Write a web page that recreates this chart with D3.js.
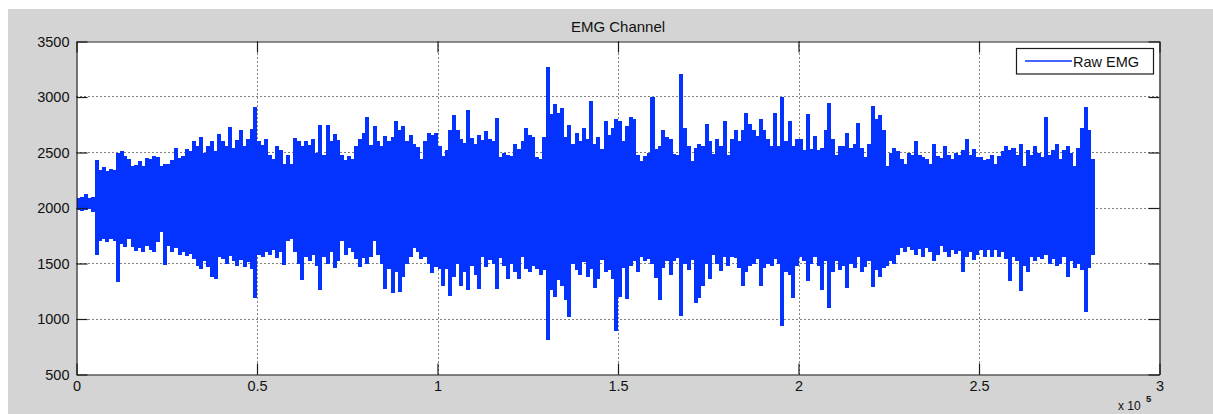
<!DOCTYPE html>
<html><head><meta charset="utf-8">
<script src="https://cdn.jsdelivr.net/npm/d3@7"></script>
<style>
body{margin:0;background:#fff}
svg{display:block}
text{font-family:"Liberation Sans",Arial,Helvetica,sans-serif}
</style>
</head><body><svg id="c" width="1213" height="414"></svg>
<script>
const title = "EMG Channel";
const seriesName = "Raw EMG";
const binSize = 1000; // samples per bin
const xTicks = [0, 50000, 100000, 150000, 200000, 250000, 300000];
const xTickLabels = ["0", "0.5", "1", "1.5", "2", "2.5", "3"];
const xExponent = "5";
const yTicks = [500, 1000, 1500, 2000, 2500, 3000, 3500];
const yTickLabels = ["500", "1000", "1500", "2000", "2500", "3000", "3500"];

// per-bin maximum of the raw EMG signal
const hi = [
2090,2100,2130,2090,2095, 2430,2340,2370,2330,2350,
2340,2500,2510,2470,2440, 2380,2390,2420,2380,2450,
2440,2470,2460,2380,2400, 2400,2430,2540,2450,2470,
2530,2510,2600,2560,2640, 2500,2560,2600,2510,2670,
2600,2560,2730,2540,2610, 2700,2560,2620,2710,2910,
2600,2570,2620,2480,2440, 2560,2520,2400,2480,2400,
2630,2600,2560,2600,2570, 2620,2500,2750,2480,2750,
2600,2670,2610,2480,2430, 2470,2440,2560,2620,2680,
2820,2570,2740,2600,2560, 2650,2600,2640,2780,2700,
2740,2600,2660,2580,2550, 2440,2600,2680,2660,2680,
2560,2470,2520,2700,2840, 2700,2620,2590,2880,2630,
2580,2660,2610,2690,2620, 2600,2810,2460,2500,2480,
2470,2580,2530,2600,2720, 2660,2640,2460,2440,2640,
3270,2850,2940,2860,2900, 2640,2750,2580,2680,2600,
2720,2620,2960,2580,2640, 2530,2780,2660,2720,2800,
2780,2600,2740,2820,2800, 2480,2420,2470,2500,3000,
2530,2560,2700,2640,2620, 2490,2480,3210,2720,2560,
2420,2540,2580,2560,2760, 2600,2490,2620,2560,2780,
2480,2620,2700,2600,2700, 2860,2760,2700,2650,2800,
2700,2620,2560,2860,2560, 3000,2600,2780,2560,2620,
2620,2520,2850,2530,2650, 2520,2540,2700,2950,2620,
2480,2560,2560,2680,2540, 2580,2770,2540,2460,2580,
2920,2800,2840,2700,2380, 2500,2540,2510,2440,2400,
2500,2480,2600,2480,2460, 2440,2400,2580,2470,2450,
2560,2480,2440,2500,2480, 2520,2620,2480,2530,2460,
2460,2430,2440,2480,2400, 2470,2510,2560,2520,2540,
2480,2580,2380,2520,2480, 2560,2500,2460,2820,2480,
2520,2580,2440,2520,2560, 2500,2380,2540,2720,2910,
2700,2440
];
// per-bin minimum of the raw EMG signal
const lo = [
1985,1975,1980,1990,1965, 1580,1700,1720,1690,1720,
1700,1330,1680,1650,1720, 1650,1610,1640,1600,1660,
1620,1600,1690,1780,1490, 1660,1600,1640,1580,1600,
1570,1590,1540,1480,1450, 1520,1470,1380,1360,1560,
1540,1500,1570,1520,1480, 1530,1470,1510,1450,1190,
1580,1560,1600,1580,1620, 1550,1600,1490,1700,1720,
1600,1500,1350,1560,1520, 1580,1480,1260,1560,1500,
1600,1460,1520,1700,1580, 1640,1600,1540,1470,1550,
1500,1560,1700,1580,1500, 1270,1450,1230,1420,1240,
1380,1500,1560,1640,1600, 1540,1560,1500,1410,1470,
1450,1300,1450,1210,1380, 1500,1300,1420,1260,1480,
1400,1270,1560,1470,1530, 1500,1270,1550,1480,1360,
1500,1420,1360,1560,1450, 1420,1480,1450,1400,1440,
810,1260,1200,1350,1300, 1170,1020,1500,1440,1400,
1510,1380,1450,1280,1360, 1530,1420,1440,1360,890,
1200,1460,1180,1480,1520, 1420,1560,1520,1540,1500,
1370,1170,1460,1520,1400, 1520,1550,1030,1500,1440,
1530,1140,1190,1300,1500, 1360,1580,1500,1430,1560,
1480,1560,1550,1460,1300, 1420,1480,1500,1540,1300,
1460,1500,1480,1540,1500, 940,1420,1400,1190,1480,
1560,1520,1340,1500,1560, 1480,1260,1520,1100,1420,
1520,1440,1480,1280,1500, 1460,1560,1420,1470,1520,
1290,1440,1380,1460,1480, 1520,1500,1580,1640,1600,
1650,1620,1580,1630,1560, 1640,1600,1520,1580,1660,
1600,1560,1620,1590,1610, 1420,1560,1600,1530,1580,
1620,1560,1620,1560,1620, 1560,1600,1540,1340,1560,
1520,1250,1480,1420,1560, 1520,1560,1540,1580,1500,
1540,1480,1500,1560,1380, 1520,1460,1500,1440,1060,
1460,1580
];

const W = 1213, H = 414;
const svg = d3.select("#c");
const blue = "#0433ff";
const ink = "#1c1c1c";

// figure background
svg.append("rect").attr("x", 8).attr("y", 9).attr("width", W - 8).attr("height", H - 9).attr("fill", "#d4d4d4");

const m = {l: 76.5, r: 1159.5, t: 41.5, b: 374.5};
const x = d3.scaleLinear().domain([0, 300000]).range([m.l, m.r]);
const y = d3.scaleLinear().domain([500, 3500]).range([m.b, m.t]);

svg.append("rect").attr("x", m.l).attr("y", m.t).attr("width", m.r - m.l).attr("height", m.b - m.t).attr("fill", "#fff");

// grid
const grid = svg.append("g").attr("stroke", "#000").attr("stroke-width", 1).attr("stroke-dasharray", "1,3");
grid.selectAll("line.v").data(xTicks.slice(1, -1)).join("line")
  .attr("x1", d => Math.round(x(d)) + 0.5).attr("x2", d => Math.round(x(d)) + 0.5)
  .attr("y1", m.t).attr("y2", m.b);
grid.selectAll("line.h").data(yTicks.slice(1, -1)).join("line")
  .attr("y1", d => Math.round(y(d) - 0.5) + 0.5).attr("y2", d => Math.round(y(d) - 0.5) + 0.5)
  .attr("x1", m.l).attr("x2", m.r);

// data: each bin drawn from its minimum to its maximum
svg.append("clipPath").attr("id", "clip").append("rect")
  .attr("x", m.l).attr("y", m.t).attr("width", m.r - m.l).attr("height", m.b - m.t);
const bins = hi.map((h, i) => ({s0: i * binSize, s1: (i + 1) * binSize, hi: h, lo: lo[i]}));
svg.append("g").attr("clip-path", "url(#clip)").attr("fill", blue).attr("shape-rendering", "crispEdges")
  .selectAll("rect").data(bins).join("rect")
  .attr("x", d => x(d.s0))
  .attr("width", d => x(d.s1) - x(d.s0) + 0.4)
  .attr("y", d => y(d.hi))
  .attr("height", d => y(d.lo) - y(d.hi));

// axes
function styleAxis(g) {
  g.attr("font-size", 14.5).attr("color", ink);
  g.select(".domain").attr("stroke-width", 1.2);
  g.selectAll(".tick line").attr("stroke-width", 1.2);
  g.selectAll("text").attr("fill", "#111");
}
svg.append("g").attr("transform", `translate(0,${m.b})`)
  .call(d3.axisBottom(x).tickValues(xTicks).tickFormat((d, i) => xTickLabels[i]).tickSizeInner(-11).tickSizeOuter(0).tickPadding(6))
  .call(styleAxis);
svg.append("g").attr("transform", `translate(0,${m.t})`)
  .call(d3.axisTop(x).tickValues(xTicks).tickFormat("").tickSizeInner(-11).tickSizeOuter(0))
  .call(styleAxis);
svg.append("g").attr("transform", `translate(${m.l},0)`)
  .call(d3.axisLeft(y).tickValues(yTicks).tickFormat((d, i) => yTickLabels[i]).tickSizeInner(-11).tickSizeOuter(0).tickPadding(7))
  .call(styleAxis);
svg.append("g").attr("transform", `translate(${m.r},0)`)
  .call(d3.axisRight(y).tickValues(yTicks).tickFormat("").tickSizeInner(-11).tickSizeOuter(0))
  .call(styleAxis);

// exponent label
svg.append("text").attr("x", 1118).attr("y", 410).attr("font-size", 12).attr("fill", "#111").text("x 10");
svg.append("text").attr("x", 1146).attr("y", 402).attr("font-size", 9.5).attr("font-weight", "bold").attr("fill", "#111").text(xExponent);

// title
svg.append("text").attr("x", (m.l + m.r) / 2).attr("y", 32).attr("text-anchor", "middle")
  .attr("font-size", 15).attr("fill", "#111").text(title);

// legend
const lg = svg.append("g");
lg.append("rect").attr("x", 1016.5).attr("y", 48.5).attr("width", 137).attr("height", 25.5)
  .attr("fill", "#fff").attr("stroke", ink).attr("stroke-width", 1.2);
lg.append("line").attr("x1", 1025).attr("x2", 1072).attr("y1", 61).attr("y2", 61)
  .attr("stroke", blue).attr("stroke-width", 1.4);
lg.append("text").attr("x", 1073).attr("y", 66.5).attr("font-size", 14.5).attr("fill", "#111").text(seriesName);
</script>
</body></html>
